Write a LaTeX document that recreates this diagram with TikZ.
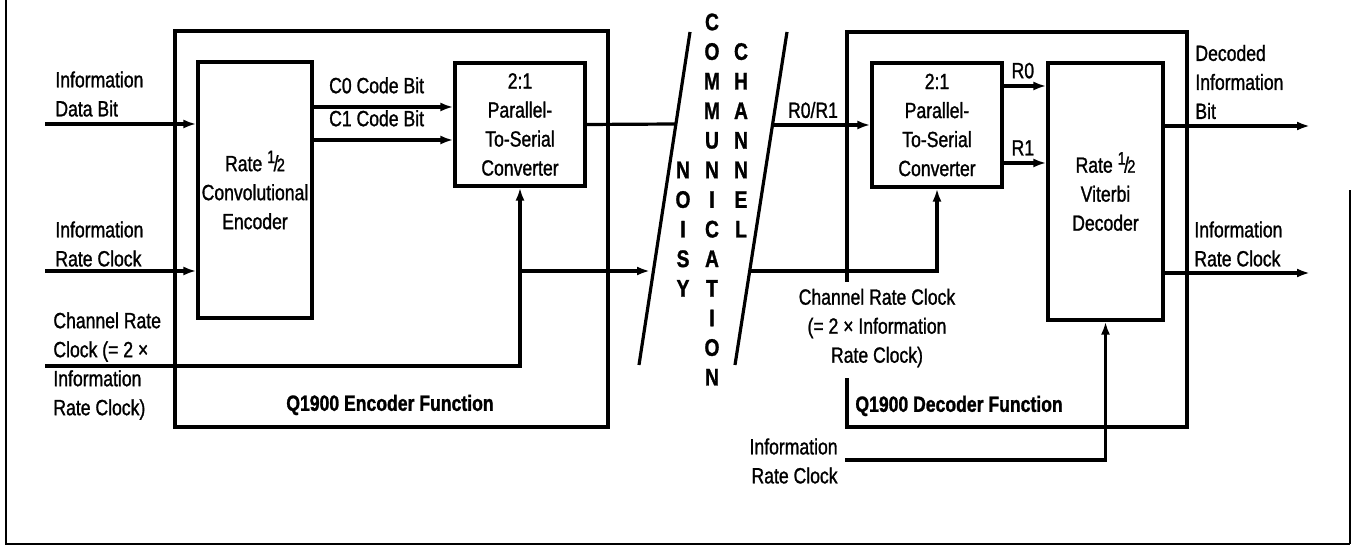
\documentclass[tikz,border=0pt]{standalone}
\usepackage{fontspec}
\setmainfont{Liberation Sans}[FakeStretch=0.8,FakeBold=1.2]
\usetikzlibrary{calc}
\usetikzlibrary{arrows,arrows.meta}

\tikzset{
  blk/.style={draw,line width=1.6pt,inner sep=0pt,align=center},
  lbl/.style={inner sep=0pt,align=left,anchor=west},
  sig/.style={line width=1.6pt},
  sigarr/.style={line width=1.6pt,-{Latex[length=6.5pt,width=4.5pt]}},
  chl/.style={inner sep=0pt,font=\fontsize{12}{14}\bfseries},
}
\newcommand{\halfrate}{Rate \raisebox{0.7ex}{\small 1}\kern-0.8pt/\kern-0.8pt{\small 2}}

\begin{document}
\begin{tikzpicture}[x=0.5pt,y=-0.5pt,font=\fontsize{11}{14.5}\selectfont]
  \useasboundingbox (0,0) rectangle (1351,549);
  % frame
  \draw[line width=1.2pt] (6,0) -- (6,544) -- (1350,544);
  \draw[line width=0.7pt] (1350,544) -- (1350,190);

  % encoder side
  \draw[sig] (175,31) rectangle (608,427);
  \node[lbl,font=\fontsize{11}{14.5}\bfseries,anchor=center] (encfn) at (390,405) {Q1900 Encoder Function};
  \node[blk,minimum width=57pt,minimum height=128pt] (conv) at (255,190)
    {\halfrate\\Convolutional\\Encoder};
  \node[blk,minimum width=65pt,minimum height=61.5pt] (ep2s) at (520,124.5)
    {2:1\\Parallel-\\To-Serial\\Converter};

  \coordinate (idb) at (45,124);
  \coordinate (irc) at (45,271);
  \coordinate (crc) at (45,366);
  \node[lbl] (idbl) at (55,94) {Information\\Data Bit};
  \node[lbl] (ircl) at (55,244) {Information\\Rate Clock};
  \node[lbl] (crcl) at (53,366) {Channel Rate\\Clock (= 2 ×\\Information\\Rate Clock)};
  \draw[sigarr] (idb) -- (idb -| conv.west);
  \draw[sigarr] (irc) -- (irc -| conv.west);
  \draw[sigarr] (crc) -| (ep2s.south);

  \draw[sigarr] (conv.east |- 0,107) -- (ep2s.west |- 0,107)
    node[lbl,pos=0.1,above=6pt,anchor=south west] (c0l) {C0 Code Bit};
  \draw[sigarr] (conv.east |- 0,140) -- (ep2s.west |- 0,140)
    node[lbl,pos=0.1,above=6pt,anchor=south west] (c1l) {C1 Code Bit};

  % channel
  \coordinate (slA1) at (690,32);
  \coordinate (slA2) at (639,365);
  \coordinate (slB1) at (787,32);
  \coordinate (slB2) at (735,365);
  \draw[sig] (slA1) -- (slA2);
  \draw[sig] (slB1) -- (slB2);
  \foreach \ch [count=\i from 0] in {C,O,M,M,U,N,I,C,A,T,I,O,N}
    \node[chl] (com\i) at (712,22+29.6*\i) {\ch};
  \foreach \ch [count=\i from 1] in {C,H,A,N,N,E,L}
    \node[chl] (chn\i) at (741,22+29.6*\i) {\ch};
  \foreach \ch [count=\i from 5] in {N,O,I,S,Y}
    \node[chl] (noi\i) at (683,22+29.6*\i) {\ch};

  \coordinate (chin) at (676,124);
  \coordinate (chclk) at (650,271);
  \draw[sig] (ep2s.east) -- (chin);
  \draw[sigarr] (ep2s.south |- chclk) -- (chclk);

  % decoder side
  \draw[sig] (847,282) -- (847,32) -- (1187,32) -- (1187,427) -- (847,427) -- (847,378);
  \node[lbl,font=\fontsize{11}{14.5}\bfseries] (decfn) at (855,406) {Q1900 Decoder Function};
  \node[blk,minimum width=65pt,minimum height=62pt] (dp2s) at (937,125)
    {2:1\\Parallel-\\To-Serial\\Converter};
  \node[blk,minimum width=57.5pt,minimum height=128.5pt] (vit) at (1105.5,191.5)
    {\halfrate\\Viterbi\\Decoder};

  \coordinate (chout) at (773,125);
  \coordinate (chclk2) at (750,271);
  \draw[sigarr] (chout) -- (dp2s.west)
    node[lbl,anchor=center] (rl) at (813,110) {R0/R1};
  \draw[sigarr] (chclk2) -| (dp2s.south);
  \node[lbl,align=center,anchor=center] (dcrcl) at (877,328)
    {Channel Rate Clock\\(= 2 × Information\\Rate Clock)};

  \draw[sigarr] (dp2s.east |- 0,86) -- (vit.west |- 0,86)
    node[lbl,pos=0.15,above=3pt,anchor=south west] (r0l) {R0};
  \draw[sigarr] (dp2s.east |- 0,163) -- (vit.west |- 0,163)
    node[lbl,pos=0.15,above=3pt,anchor=south west] (r1l) {R1};

  \coordinate (dout) at (1310,126);
  \coordinate (cout) at (1310,273);
  \draw[sigarr] (vit.east |- dout) -- (dout);
  \draw[sigarr] (vit.east |- cout) -- (cout);
  \node[lbl] (doutl) at (1195,82) {Decoded\\Information\\Bit};
  \node[lbl] (coutl) at (1194,244) {Information\\Rate Clock};

  \coordinate (vclk) at (845,460);
  \draw[sigarr] (vclk) -| (vit.south);
  \node[lbl,align=right,anchor=east] (vclkl) at (838,461) {Information\\Rate Clock};
\end{tikzpicture}
\end{document}
